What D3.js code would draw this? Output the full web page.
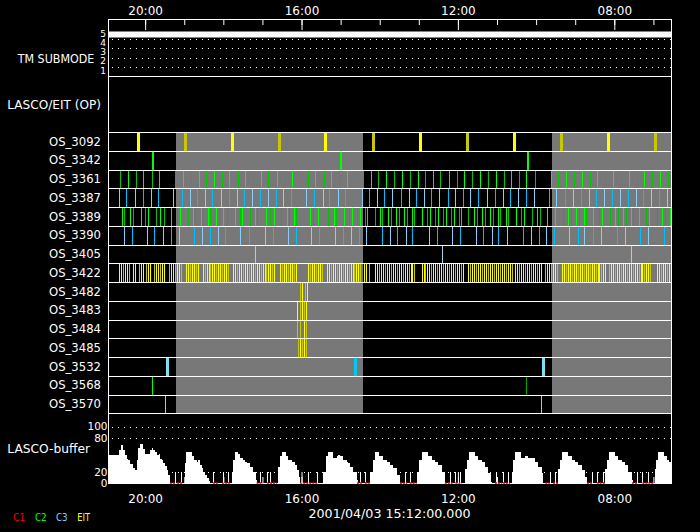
<!DOCTYPE html>
<html>
<head>
<meta charset="utf-8">
<script src="https://cdn.jsdelivr.net/npm/d3@7"></script>
<style>
body { margin: 0; background: #000; }
svg { display: block; background: #000; }
</style>
</head>
<body>
<svg></svg>
<script>
var width = 700;
var height = 532;

// time window, left edge is the later time
var timeStart = "20:57";
var timeEnd = "06:33";
var dateLabel = "2001/04/03 15:12:00.000";

var tmTicks = [1, 2, 3, 4, 5];
var tmSubmode = [["20:57", 5], ["06:33", 5]];

var bufferTicks = [0, 20, 80, 100];
var bufferGrid = [20, 80, 100];

var osNames = ["OS_3092", "OS_3342", "OS_3361", "OS_3387", "OS_3389", "OS_3390", "OS_3405", "OS_3422",
    "OS_3482", "OS_3483", "OS_3484", "OS_3485", "OS_3532", "OS_3568", "OS_3570"];

var grayPeriods = [["19:13", "14:25"], ["09:36", "06:33"]];

var os3092 = ["20:10", "18:58", "17:46", "16:34", "15:23", "14:10", "12:57", "11:45", "10:33", "09:21", "08:09", "06:57"];
var os3342 = ["19:48", "15:00", "10:12"];
var os3361 = ["20:38", "20:26", "20:14", "20:02", "19:49", "19:38", "19:13", "19:01", "18:49", "18:37", "18:26", "18:13",
    "18:02", "17:50", "17:37", "17:26", "17:14", "17:02", "16:50", "16:37", "16:25", "16:14", "15:50", "15:38", "15:25",
    "15:14", "15:02", "14:50", "14:25", "14:13", "14:02", "13:50", "13:38", "13:25", "13:13", "13:01", "12:50", "12:38",
    "12:26", "12:13", "12:01", "11:50", "11:38", "11:26", "11:13", "11:01", "10:49", "10:38", "10:26", "10:14", "10:01",
    "09:37", "09:26", "09:14", "09:01", "08:49", "08:37", "08:26", "08:14", "08:01", "07:49", "07:37", "07:25", "07:14",
    "07:02", "06:49", "06:37"];
var os3387 = ["20:40", "20:28", "20:15", "20:03", "19:51", "19:40", "19:16", "19:03", "18:51", "18:40", "18:28", "18:16",
    "18:03", "17:51", "17:39", "17:28", "17:16", "17:03", "16:51", "16:39", "16:27", "16:16", "15:52", "15:40", "15:27",
    "15:17", "15:04", "14:52", "14:27", "14:15", "14:04", "13:52", "13:40", "13:27", "13:15", "13:04", "12:52", "12:40",
    "12:28", "12:15", "12:03", "11:52", "11:40", "11:28", "11:15", "11:03", "10:50", "10:40", "10:27", "10:15", "10:03",
    "09:40", "09:28", "09:15", "09:03", "08:51", "08:38", "08:28", "08:15", "08:03", "07:51", "07:38", "07:26", "07:15",
    "07:03", "06:51", "06:39"];
var os3389 = ["20:35", "20:31", "20:23", "20:18", "20:06", "19:59", "19:55", "19:43", "19:36", "19:31", "19:19", "19:11",
    "19:06", "18:54", "18:46", "18:42", "18:34", "18:30", "18:23", "18:19", "18:11", "18:06", "17:59", "17:54", "17:42",
    "17:34", "17:31", "17:19", "17:11", "17:07", "16:54", "16:47", "16:42", "16:31", "16:22", "16:19", "16:11", "16:07",
    "15:47", "15:42", "15:34", "15:19", "15:10", "15:07", "14:54", "14:47", "14:42", "14:34", "14:30", "14:22", "14:19",
    "14:07", "13:59", "13:55", "13:47", "13:42", "13:35", "13:30", "13:22", "13:18", "13:10", "13:07", "12:55", "12:47",
    "12:42", "12:35", "12:30", "12:22", "12:18", "12:10", "12:06", "11:58", "11:55", "11:43", "11:35", "11:30", "11:23",
    "11:18", "11:10", "11:06", "10:58", "10:55", "10:46", "10:43", "10:30", "10:23", "10:18", "10:06", "09:58", "09:54",
    "09:43", "09:34", "09:31", "09:18", "09:11", "09:06", "08:58", "08:54", "08:46", "08:43", "08:32", "08:22", "08:18",
    "08:06", "07:58", "07:54", "07:46", "07:42", "07:34", "07:31", "07:22", "07:11", "07:06", "06:54", "06:46", "06:42",
    "06:34"];
var os3390 = ["20:32", "20:20", "19:57", "19:45", "19:32", "19:20", "19:08", "18:45", "18:32", "18:20", "18:08", "17:56",
    "17:33", "17:20", "16:56", "16:43", "16:20", "16:08", "15:44", "15:33", "15:08", "14:56", "14:44", "14:31", "14:21",
    "13:56", "13:44", "13:32", "13:19", "13:09", "12:44", "12:32", "12:09", "11:56", "11:32", "11:20", "11:07", "10:57",
    "10:44", "10:20", "10:07", "09:55", "09:44", "09:32", "09:08", "08:55", "08:45", "08:32", "08:20", "07:55", "07:43",
    "07:20", "07:08", "06:43"];
var os3405 = ["17:11", "12:23", "07:34"];
var os3422 = ["20:39", "20:36", "20:33", "20:30", "20:27", "20:24", "20:18", "20:15",
    "20:08", "20:05", "20:02", "19:58", "19:55", "19:52",
    "19:46", "19:43", "19:40", "19:37", "19:34", "19:31",
    "19:22", "19:19", "19:16", "19:13", "19:10", "19:07", "19:04",
    "18:56", "18:53", "18:50", "18:47", "18:44", "18:41", "18:38",
    "18:31", "18:28", "18:25", "18:22", "18:19", "18:16", "18:13", "18:10", "18:07", "18:04", "18:01", "17:58", "17:55", "17:52",
    "17:44", "17:41", "17:38", "17:35", "17:32", "17:29", "17:26", "17:23", "17:20", "17:17", "17:14", "17:11", "17:08",
    "17:05", "17:02", "16:59", "16:56", "16:53", "16:50", "16:47", "16:44", "16:41",
    "16:32", "16:29", "16:26", "16:23", "16:20", "16:17", "16:14", "16:11", "16:08",
    "15:49", "15:46", "15:43", "15:40", "15:37", "15:34", "15:31", "15:28",
    "15:20", "15:17", "15:14", "15:11", "15:08", "15:05", "15:02", "14:59", "14:56", "14:53", "14:50", "14:47", "14:44",
    "14:41", "14:38", "14:35", "14:32", "14:29",
    "14:23", "14:20", "14:15",
    "14:06", "14:03", "14:00", "13:57", "13:54", "13:51", "13:48", "13:45", "13:42", "13:39", "13:36", "13:33", "13:30",
    "13:27", "13:24", "13:21", "13:18", "13:15", "13:12", "13:09", "13:06",
    "12:55", "12:52", "12:49", "12:46", "12:43", "12:40", "12:37", "12:34", "12:31", "12:28", "12:25", "12:22", "12:19",
    "12:16", "12:13", "12:10", "12:07", "12:04", "12:01", "11:58", "11:55", "11:52",
    "11:43", "11:40", "11:37", "11:34", "11:31", "11:28", "11:25", "11:22", "11:19", "11:16", "11:13", "11:10", "11:07",
    "11:04", "11:01", "10:58", "10:55", "10:52", "10:49", "10:46", "10:43", "10:40", "10:37",
    "10:31", "10:28", "10:25", "10:22", "10:19", "10:16", "10:13", "10:10", "10:07", "10:04", "10:01", "09:58", "09:55", "09:52",
    "09:45", "09:42", "09:39", "09:36", "09:33", "09:30", "09:27",
    "09:19", "09:16", "09:13", "09:10", "09:07", "09:04", "09:01", "08:58", "08:55", "08:52", "08:49", "08:46", "08:43",
    "08:40", "08:37", "08:34", "08:31", "08:28", "08:25", "08:22", "08:19", "08:16", "08:13",
    "08:07", "08:04", "08:01", "07:58", "07:55", "07:52", "07:49", "07:46", "07:43", "07:40", "07:37", "07:34", "07:31",
    "07:28", "07:25", "07:22", "07:19", "07:16", "07:13", "07:10", "07:07", "07:04",
    "06:54", "06:51", "06:48", "06:45", "06:42", "06:39", "06:36"];
var os3482 = ["16:02", "15:59", "15:54", "15:51"];
var os3483 = ["16:06", "16:02", "15:59", "15:56", "15:53"];
var os3484 = ["16:06", "16:02", "16:01", "15:56", "15:53"];
var os3485 = ["16:04", "16:01", "15:58", "15:55", "15:52"];
var os3532 = ["19:26", "14:37", "09:49"];
var os3568 = ["19:49", "10:14"];
var os3570 = ["19:28", "09:52"];

// LASCO buffer fill level (%), step values
var bufferLevel = [
    ["20:57", 50], ["20:40", 58], ["20:37", 67], ["20:34", 58], ["20:31", 50], ["20:28", 43], ["20:27", 40], ["20:23", 33],
    ["20:19", 27], ["20:16", 23], ["20:13", 40], ["20:11", 62], ["20:08", 70], ["20:04", 60], ["20:00", 52], ["19:53", 58],
    ["19:50", 62], ["19:48", 58], ["19:45", 55], ["19:42", 50], ["19:39", 52], ["19:37", 43], ["19:34", 40], ["19:33", 35],
    ["19:30", 30], ["19:27", 23], ["19:25", 15], ["19:22", 0],
    ["19:14", 20], ["19:13", 0], ["19:05", 20], ["19:04", 0],
    ["18:59", 35], ["18:58", 55], ["18:48", 47], ["18:45", 41], ["18:41", 38], ["18:39", 41], ["18:36", 32], ["18:33", 26],
    ["18:31", 20], ["18:28", 14], ["18:25", 8], ["18:22", 3], ["18:21", 0],
    ["18:16", 20], ["18:15", 0], ["18:01", 20], ["17:59", 0], ["17:53", 20], ["17:52", 0],
    ["17:47", 20], ["17:45", 41], ["17:42", 55], ["17:38", 52], ["17:35", 44], ["17:30", 41], ["17:27", 38], ["17:24", 35],
    ["17:19", 29], ["17:15", 20], ["17:10", 5], ["17:09", 0],
    ["17:04", 20], ["17:02", 0], ["16:53", 20], ["16:52", 0], ["16:49", 20], ["16:47", 0],
    ["16:36", 29], ["16:33", 47], ["16:30", 55], ["16:24", 47], ["16:21", 41], ["16:15", 38], ["16:10", 32], ["16:07", 23],
    ["16:04", 11], ["16:02", 0],
    ["15:50", 20], ["15:49", 0], ["15:36", 20], ["15:35", 0],
    ["15:27", 20], ["15:23", 47], ["15:20", 55], ["15:12", 44], ["15:06", 47], ["15:04", 50], ["15:01", 47], ["14:56", 41],
    ["14:50", 38], ["14:49", 35], ["14:46", 29], ["14:41", 20], ["14:35", 5], ["14:33", 0],
    ["14:30", 20], ["14:29", 0], ["14:23", 20], ["14:21", 0],
    ["14:15", 20], ["14:10", 41], ["14:07", 55], ["14:01", 47], ["13:55", 41], ["13:49", 38], ["13:44", 32], ["13:40", 26],
    ["13:34", 14], ["13:29", 0],
    ["13:21", 20], ["13:20", 0], ["13:14", 20], ["13:12", 0],
    ["13:03", 20], ["13:00", 41], ["12:55", 55], ["12:46", 47], ["12:40", 41], ["12:35", 38], ["12:31", 32], ["12:24", 20],
    ["12:20", 0],
    ["12:12", 20], ["12:11", 0], ["12:04", 20], ["12:03", 0], ["11:57", 20], ["11:55", 0],
    ["11:49", 25], ["11:46", 41], ["11:43", 55], ["11:34", 47], ["11:29", 41], ["11:23", 38], ["11:18", 29], ["11:14", 17],
    ["11:09", 2], ["11:08", 0],
    ["11:02", 20], ["11:00", 0], ["10:51", 20], ["10:49", 0], ["10:43", 20], ["10:42", 0],
    ["10:37", 20], ["10:35", 41], ["10:32", 55], ["10:23", 44], ["10:17", 47], ["10:12", 44], ["10:06", 44], ["10:02", 38],
    ["09:57", 29], ["09:51", 17], ["09:49", 0],
    ["09:39", 20], ["09:37", 0], ["09:31", 20], ["09:29", 0],
    ["09:26", 25], ["09:23", 41], ["09:20", 55], ["09:11", 47], ["09:05", 41], ["09:00", 38], ["08:56", 32], ["08:50", 23],
    ["08:45", 11], ["08:42", 0],
    ["08:34", 20], ["08:33", 0], ["08:27", 20], ["08:25", 0], ["08:17", 20], ["08:16", 0],
    ["08:14", 25], ["08:11", 41], ["08:08", 55], ["07:59", 47], ["07:54", 41], ["07:48", 38], ["07:44", 32], ["07:39", 20],
    ["07:33", 5], ["07:31", 0],
    ["07:25", 20], ["07:24", 0], ["07:17", 20], ["07:16", 0], ["07:08", 20], ["07:07", 0],
    ["06:58", 25], ["06:56", 41], ["06:53", 55], ["06:44", 47], ["06:39", 41], ["06:36", 38], ["06:33", 38]
];

// C1 exposures shown under the buffer plot
var c1Periods = [["19:22", "19:14"], ["19:11", "19:02"], ["18:16", "18:08"], ["18:02", "17:50"], ["17:09", "16:59"],
    ["16:53", "16:38"], ["16:02", "15:36"], ["14:35", "14:27"], ["14:23", "14:15"], ["13:29", "13:18"], ["13:14", "13:03"],
    ["12:20", "12:08"], ["12:04", "11:54"], ["11:03", "10:52"], ["10:51", "10:40"], ["09:46", "09:39"], ["09:34", "09:26"],
    ["08:42", "08:33"], ["08:27", "08:14"], ["07:33", "07:24"], ["07:17", "07:00"]];

var legendNames = ["C1", "C2", "C3", "EIT"];
var legendColors = ["#ff0000", "#00ff00", "#87cefa", "#ffff00"];

//..................................................................................//

var parse = d3.timeParse("%H:%M");
var FONT = "'DejaVu Sans', sans-serif";

// plot box ("top" is taken by window, so short names here)
var pL = 108, pR = 671, pT = 19, pB = 483;

var svg = d3.select('svg')
    .attr('width', width)
    .attr('height', height);

var x = d3.scaleTime()
    .domain([parse(timeStart), parse(timeEnd)])
    .range([pL, pR]);

var rowY = d3.scaleBand()
    .domain(osNames)
    .range([132, 413.25]);

var tmY = d3.scaleLinear().domain([1, 5]).range([71.3, 34.5]);
var bufY = d3.scaleLinear().domain([0, 100]).range([pB, 426.6]);

var rows = [
    { name: "OS_3092", times: os3092, w: 3, colors: ["#ffff00", "#c8c800"] },
    { name: "OS_3342", times: os3342, w: 2, colors: ["#00ff00"] },
    { name: "OS_3361", times: os3361, w: 1, colors: ["#00c800", "#00ff00"] },
    { name: "OS_3387", times: os3387, w: 1, colors: ["#87cefa", "#00bfff"] },
    { name: "OS_3389", times: os3389, w: 1, colors: ["#00ff00", "#00c000"] },
    { name: "OS_3390", times: os3390, w: 1, colors: ["#87cefa", "#00bfff"] },
    { name: "OS_3405", times: os3405, w: 1, colors: ["#9fd3e8"] },
    { name: "OS_3422", times: os3422, w: 1, colors: ["#ffff00", "#ffff00", "#c8c800"] },
    { name: "OS_3482", times: os3482, w: 1, colors: ["#c8c800", "#ffff00"] },
    { name: "OS_3483", times: os3483, w: 1, colors: ["#ffff00", "#c8c800"] },
    { name: "OS_3484", times: os3484, w: 1, colors: ["#c8c800", "#ffff00"] },
    { name: "OS_3485", times: os3485, w: 1, colors: ["#c8c800", "#ffff00"] },
    { name: "OS_3532", times: os3532, w: 3, colors: ["#80e0f0", "#00c8f0"] },
    { name: "OS_3568", times: os3568, w: 1, colors: ["#00ff00", "#00a000"] },
    { name: "OS_3570", times: os3570, w: 1, colors: ["#87cefa"] }
];

// gray periods behind the OS rows
svg.append('g').selectAll('rect')
    .data(grayPeriods)
    .enter()
    .append('rect')
    .attr('x', function (d) { return Math.round(x(parse(d[0]))); })
    .attr('width', function (d) { return Math.round(x(parse(d[1]))) - Math.round(x(parse(d[0]))); })
    .attr('y', rowY.range()[0])
    .attr('height', rowY.range()[1] - rowY.range()[0])
    .attr('fill', '#787878');

// event marks
rows.forEach(function (r) {
    svg.append('g').selectAll('rect')
        .data(r.times)
        .enter()
        .append('rect')
        .attr('x', function (d) { return Math.round(x(parse(d)) - r.w / 2); })
        .attr('width', r.w)
        .attr('y', rowY(r.name))
        .attr('height', rowY.bandwidth())
        .attr('shape-rendering', 'crispEdges')
        .attr('fill', function (d, i) { return r.colors[i % r.colors.length]; });
});

// TM submode panel
svg.append('g').selectAll('line')
    .data([1.5, 2.5, 3.5, 4.5])
    .enter()
    .append('line')
    .attr('x1', pL + 4).attr('x2', pR)
    .attr('y1', function (d) { return Math.round(tmY(d)) + 0.5; })
    .attr('y2', function (d) { return Math.round(tmY(d)) + 0.5; })
    .attr('stroke', '#fff')
    .attr('stroke-dasharray', '1,5');

svg.append('path')
    .datum(tmSubmode)
    .attr('d', d3.line()
        .x(function (d) { return x(parse(d[0])); })
        .y(function (d) { return tmY(d[1]); }))
    .attr('stroke', '#fff')
    .attr('stroke-width', 6)
    .attr('fill', 'none');

svg.append('g').selectAll('text')
    .data(tmTicks)
    .enter()
    .append('text')
    .attr('x', 106)
    .attr('y', function (d) { return tmY(d) - 1; })
    .attr('dy', '0.36em')
    .attr('text-anchor', 'end')
    .attr('font-size', 9)
    .attr('font-family', FONT)
    .attr('fill', '#fff')
    .text(function (d) { return d; });

// buffer panel
svg.append('g').selectAll('line')
    .data(bufferGrid)
    .enter()
    .append('line')
    .attr('x1', pL + 4).attr('x2', pR)
    .attr('y1', function (d) { return Math.round(bufY(d)) + 0.5; })
    .attr('y2', function (d) { return Math.round(bufY(d)) + 0.5; })
    .attr('stroke', '#fff')
    .attr('stroke-dasharray', '1,5');

svg.append('path')
    .datum(bufferLevel)
    .attr('d', d3.area()
        .x(function (d) { return x(parse(d[0])); })
        .y0(pB)
        .y1(function (d) { return bufY(d[1]); })
        .curve(d3.curveStepAfter))
    .attr('fill', '#fff')
    .attr('shape-rendering', 'crispEdges');

svg.append('g').selectAll('text')
    .data(bufferTicks)
    .enter()
    .append('text')
    .attr('x', 107.5)
    .attr('y', function (d) { return bufY(d); })
    .attr('dy', '0.36em')
    .attr('text-anchor', 'end')
    .attr('font-size', 10.5)
    .attr('font-family', FONT)
    .attr('fill', '#fff')
    .text(function (d) { return d; });

// frame and row separators
var hLines = [pT, 76].concat(osNames.map(function (n) { return rowY(n); }), [rowY.range()[1], pB]);
svg.append('g').selectAll('line')
    .data(hLines)
    .enter()
    .append('line')
    .attr('x1', pL).attr('x2', pR + 0.5)
    .attr('y1', function (d) { return Math.round(d) + 0.5; })
    .attr('y2', function (d) { return Math.round(d) + 0.5; })
    .attr('stroke', '#fff');

svg.append('g').selectAll('line')
    .data([pL, pR])
    .enter()
    .append('line')
    .attr('x1', function (d) { return d + 0.5; })
    .attr('x2', function (d) { return d + 0.5; })
    .attr('y1', pT).attr('y2', pB + 1)
    .attr('stroke', '#fff');

// C1 marks
svg.append('g').selectAll('line')
    .data(c1Periods)
    .enter()
    .append('line')
    .attr('x1', function (d) { return x(parse(d[0])); })
    .attr('x2', function (d) { return x(parse(d[1])); })
    .attr('y1', pB).attr('y2', pB)
    .attr('stroke', '#e00000')
    .attr('stroke-width', 1.5)
    .attr('stroke-dasharray', '2,1');

// axes
var styleAxis = function (g) {
    g.attr('color', '#fff');
    g.select('.domain').remove();
    g.selectAll('text')
        .attr('font-size', 12)
        .attr('font-family', FONT)
        .attr('fill', '#fff');
};

svg.append('g').attr('transform', 'translate(0,' + pT + ')')
    .call(d3.axisTop(x).ticks(d3.timeHour.every(1)).tickSize(-6).tickFormat(''))
    .call(styleAxis);
svg.append('g').attr('transform', 'translate(0,' + pT + ')')
    .call(d3.axisTop(x).ticks(d3.timeHour.every(4)).tickSize(-11).tickPadding(4.5).tickFormat(d3.timeFormat('%H:%M')))
    .call(styleAxis);
svg.append('g').attr('transform', 'translate(0,' + pB + ')')
    .call(d3.axisBottom(x).ticks(d3.timeHour.every(1)).tickSize(-6).tickFormat(''))
    .call(styleAxis);
svg.append('g').attr('transform', 'translate(0,' + pB + ')')
    .call(d3.axisBottom(x).ticks(d3.timeHour.every(4)).tickSize(-11).tickPadding(11).tickFormat(d3.timeFormat('%H:%M')))
    .call(styleAxis);

// labels
var addLabel = function (txt, xe, yc, len, size, anchor, color) {
    svg.append('text')
        .attr('x', xe)
        .attr('y', yc)
        .attr('dy', '0.36em')
        .attr('text-anchor', anchor || 'end')
        .attr('font-size', size)
        .attr('font-family', FONT)
        .attr('fill', color || '#fff')
        .attr('textLength', len)
        .attr('lengthAdjust', 'spacingAndGlyphs')
        .text(txt);
};

addLabel("TM SUBMODE", 94.3, 58.3, 76.6, 12);
addLabel("LASCO/EIT (OP)", 101, 104.5, 93.7, 12);
osNames.forEach(function (n) {
    addLabel(n, 101, rowY(n) + rowY.bandwidth() / 2, 52, 12);
});
addLabel("LASCO-buffer", 90, 448.5, 82.7, 12);
addLabel(dateLabel, 389.5, 513.3, 162, 12.5, 'middle');

var legendX = [13.3, 35, 56, 77.3];
legendNames.forEach(function (n, i) {
    addLabel(n, legendX[i], 517, n.length === 3 ? 12.7 : 11.7, 10, 'start', legendColors[i]);
});
</script>
</body>
</html>
